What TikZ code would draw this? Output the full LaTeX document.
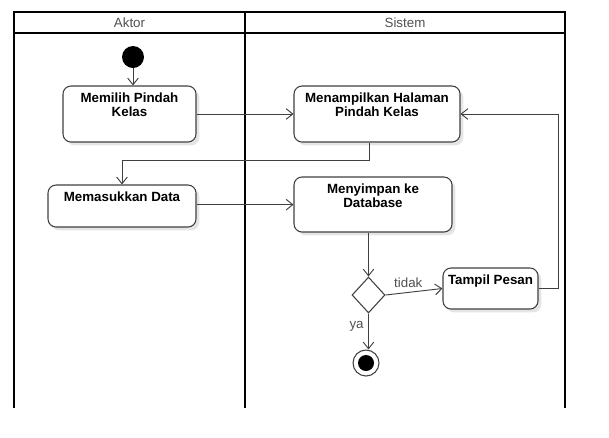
\documentclass[tikz,border=0pt]{standalone}
\usepackage{fontspec}
\setmainfont{Liberation Sans}
\usetikzlibrary{arrows.meta,shapes.geometric,shadows}
\definecolor{conn}{HTML}{404040}
\definecolor{lbl}{HTML}{505050}
\tikzset{
  lane/.style={line width=1.5pt,black},
  act/.style={draw=conn,line width=0.8pt,rounded corners=6pt,fill=white,
    drop shadow={shadow xshift=2.5pt,shadow yshift=-2.5pt,fill=black!10,opacity=1}},
  acttext/.style={anchor=north,yshift=-4.5pt,inner sep=1pt,align=center,
    font=\bfseries\fontsize{10}{10}\selectfont},
  arr/.style={draw=conn,line width=0.7pt,-{Straight Barb[length=5pt,width=8pt]}},
  lanetitle/.style={font=\fontsize{10}{11}\selectfont,text=lbl},
  guard/.style={font=\fontsize{10}{11}\selectfont,text=lbl},
}
\begin{document}
\begin{tikzpicture}[x=0.75pt,y=-0.75pt]
\useasboundingbox (0,0) rectangle (609,437);
% swimlanes
\draw[lane] (14,408) -- (14,12) -- (565,12) -- (565,408);
\draw[lane] (245,12) -- (245,408);
\draw[lane] (14,33) -- (565,33);
\node[lanetitle] (aktor) at (129.5,22.5) {Aktor};
\node[lanetitle] (sistem) at (405,22.5) {Sistem};
% nodes
\node[circle,fill=black,minimum size=16.5pt,inner sep=0] (start) at (133,57) {};
\node[act,minimum width=99.75pt,minimum height=42pt,
  label={[acttext]north:Memilih Pindah\\Kelas}] (memilih) at (129.5,114) {};
\node[act,minimum width=124.5pt,minimum height=42pt,
  label={[acttext]north:Menampilkan Halaman\\Pindah Kelas}] (menampilkan) at (377,114) {};
\node[act,minimum width=111pt,minimum height=31.5pt,
  label={[acttext]north:Memasukkan Data}] (memasukkan) at (122,206) {};
\node[act,minimum width=118.5pt,minimum height=41.25pt,
  label={[acttext]north:Menyimpan ke\\Database}] (menyimpan) at (373,204.5) {};
\node[act,minimum width=71.25pt,minimum height=30.75pt,
  label={[acttext]north:Tampil Pesan}] (tampil) at (490.5,288.5) {};
\node[diamond,draw=conn,line width=0.8pt,fill=white,minimum width=24.75pt,
  minimum height=27pt,inner sep=0] (keputusan) at (368.5,295) {};
\node[circle,draw=conn,line width=0.8pt,fill=white,minimum size=19.5pt,inner sep=0] (akhir) at (366,363) {};
\node[circle,fill=black,minimum size=12pt,inner sep=0] (akhirdot) at (akhir) {};
% connectors
\draw[arr] (start) -- (memilih.north -| start);
\draw[arr] (memilih.east) -- (menampilkan.west);
\draw[arr] ([xshift=-6pt]menampilkan.south) -- ++(0,18) -| (memasukkan.north);
\draw[arr] ([yshift=1pt]memasukkan.east) -- ([yshift=1pt]memasukkan.east -| menyimpan.west);
\draw[arr] (menyimpan.south -| keputusan.north) -- (keputusan.north);
\draw[arr] (keputusan.east) -- node[guard,above,pos=0.4] (tidak) {tidak} (tampil.west);
\draw[arr] (tampil.east) -- ++(20,0) |- (menampilkan.east);
\draw[arr] (keputusan.south) -- node[guard,left,pos=0.35] (ya) {ya} (akhir.north -| keputusan.south);
\end{tikzpicture}
\end{document}
